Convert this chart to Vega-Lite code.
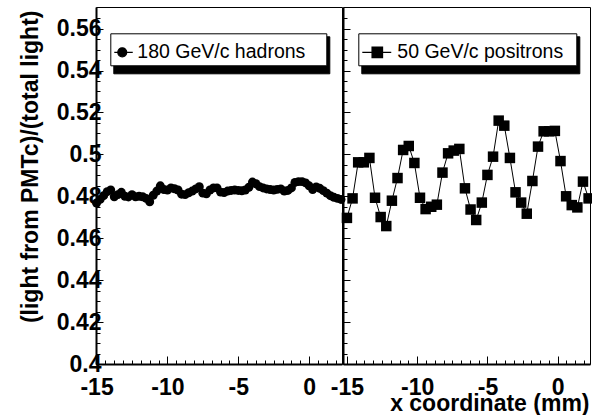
{
  "$schema": "https://vega.github.io/schema/vega-lite/v6.json",
  "background": "white",
  "padding": {"left": 18, "top": 6, "right": 0, "bottom": 0},
  "spacing": 1,
  "bounds": "flush",
  "datasets": {
    "hadrons": [
      {"x": -15, "y": 0.4768, "series": "180 GeV/c hadrons"},
      {"x": -14.75, "y": 0.4785, "series": "180 GeV/c hadrons"},
      {"x": -14.5, "y": 0.4803, "series": "180 GeV/c hadrons"},
      {"x": -14.25, "y": 0.4822, "series": "180 GeV/c hadrons"},
      {"x": -14, "y": 0.483, "series": "180 GeV/c hadrons"},
      {"x": -13.75, "y": 0.4798, "series": "180 GeV/c hadrons"},
      {"x": -13.5, "y": 0.4808, "series": "180 GeV/c hadrons"},
      {"x": -13.25, "y": 0.4819, "series": "180 GeV/c hadrons"},
      {"x": -13, "y": 0.48, "series": "180 GeV/c hadrons"},
      {"x": -12.75, "y": 0.4797, "series": "180 GeV/c hadrons"},
      {"x": -12.5, "y": 0.4808, "series": "180 GeV/c hadrons"},
      {"x": -12.25, "y": 0.4798, "series": "180 GeV/c hadrons"},
      {"x": -12, "y": 0.48, "series": "180 GeV/c hadrons"},
      {"x": -11.75, "y": 0.4798, "series": "180 GeV/c hadrons"},
      {"x": -11.5, "y": 0.479, "series": "180 GeV/c hadrons"},
      {"x": -11.25, "y": 0.4774, "series": "180 GeV/c hadrons"},
      {"x": -11, "y": 0.4805, "series": "180 GeV/c hadrons"},
      {"x": -10.75, "y": 0.4825, "series": "180 GeV/c hadrons"},
      {"x": -10.5, "y": 0.485, "series": "180 GeV/c hadrons"},
      {"x": -10.25, "y": 0.4832, "series": "180 GeV/c hadrons"},
      {"x": -10, "y": 0.483, "series": "180 GeV/c hadrons"},
      {"x": -9.75, "y": 0.484, "series": "180 GeV/c hadrons"},
      {"x": -9.5, "y": 0.4836, "series": "180 GeV/c hadrons"},
      {"x": -9.25, "y": 0.483, "series": "180 GeV/c hadrons"},
      {"x": -9, "y": 0.481, "series": "180 GeV/c hadrons"},
      {"x": -8.75, "y": 0.4808, "series": "180 GeV/c hadrons"},
      {"x": -8.5, "y": 0.4817, "series": "180 GeV/c hadrons"},
      {"x": -8.25, "y": 0.4825, "series": "180 GeV/c hadrons"},
      {"x": -8, "y": 0.4835, "series": "180 GeV/c hadrons"},
      {"x": -7.75, "y": 0.4846, "series": "180 GeV/c hadrons"},
      {"x": -7.5, "y": 0.4815, "series": "180 GeV/c hadrons"},
      {"x": -7.25, "y": 0.4812, "series": "180 GeV/c hadrons"},
      {"x": -7, "y": 0.483, "series": "180 GeV/c hadrons"},
      {"x": -6.75, "y": 0.484, "series": "180 GeV/c hadrons"},
      {"x": -6.5, "y": 0.484, "series": "180 GeV/c hadrons"},
      {"x": -6.25, "y": 0.482, "series": "180 GeV/c hadrons"},
      {"x": -6, "y": 0.4818, "series": "180 GeV/c hadrons"},
      {"x": -5.75, "y": 0.4825, "series": "180 GeV/c hadrons"},
      {"x": -5.5, "y": 0.4828, "series": "180 GeV/c hadrons"},
      {"x": -5.25, "y": 0.483, "series": "180 GeV/c hadrons"},
      {"x": -5, "y": 0.4828, "series": "180 GeV/c hadrons"},
      {"x": -4.75, "y": 0.4826, "series": "180 GeV/c hadrons"},
      {"x": -4.5, "y": 0.483, "series": "180 GeV/c hadrons"},
      {"x": -4.25, "y": 0.4843, "series": "180 GeV/c hadrons"},
      {"x": -4, "y": 0.4868, "series": "180 GeV/c hadrons"},
      {"x": -3.75, "y": 0.486, "series": "180 GeV/c hadrons"},
      {"x": -3.5, "y": 0.4846, "series": "180 GeV/c hadrons"},
      {"x": -3.25, "y": 0.484, "series": "180 GeV/c hadrons"},
      {"x": -3, "y": 0.4835, "series": "180 GeV/c hadrons"},
      {"x": -2.75, "y": 0.4832, "series": "180 GeV/c hadrons"},
      {"x": -2.5, "y": 0.483, "series": "180 GeV/c hadrons"},
      {"x": -2.25, "y": 0.4833, "series": "180 GeV/c hadrons"},
      {"x": -2, "y": 0.4835, "series": "180 GeV/c hadrons"},
      {"x": -1.75, "y": 0.4825, "series": "180 GeV/c hadrons"},
      {"x": -1.5, "y": 0.4828, "series": "180 GeV/c hadrons"},
      {"x": -1.25, "y": 0.484, "series": "180 GeV/c hadrons"},
      {"x": -1, "y": 0.4866, "series": "180 GeV/c hadrons"},
      {"x": -0.75, "y": 0.487, "series": "180 GeV/c hadrons"},
      {"x": -0.5, "y": 0.487, "series": "180 GeV/c hadrons"},
      {"x": -0.25, "y": 0.4864, "series": "180 GeV/c hadrons"},
      {"x": 0, "y": 0.485, "series": "180 GeV/c hadrons"},
      {"x": 0.25, "y": 0.4832, "series": "180 GeV/c hadrons"},
      {"x": 0.5, "y": 0.4845, "series": "180 GeV/c hadrons"},
      {"x": 0.75, "y": 0.4838, "series": "180 GeV/c hadrons"},
      {"x": 1, "y": 0.4827, "series": "180 GeV/c hadrons"},
      {"x": 1.25, "y": 0.4815, "series": "180 GeV/c hadrons"},
      {"x": 1.5, "y": 0.4803, "series": "180 GeV/c hadrons"},
      {"x": 1.75, "y": 0.4795, "series": "180 GeV/c hadrons"},
      {"x": 2, "y": 0.479, "series": "180 GeV/c hadrons"},
      {"x": 2.25, "y": 0.4785, "series": "180 GeV/c hadrons"}
    ],
    "positrons": [
      {"x": -15, "y": 0.4697, "series": "50 GeV/c positrons"},
      {"x": -14.6, "y": 0.479, "series": "50 GeV/c positrons"},
      {"x": -14.2, "y": 0.4962, "series": "50 GeV/c positrons"},
      {"x": -13.8, "y": 0.4962, "series": "50 GeV/c positrons"},
      {"x": -13.4, "y": 0.4983, "series": "50 GeV/c positrons"},
      {"x": -13, "y": 0.4793, "series": "50 GeV/c positrons"},
      {"x": -12.6, "y": 0.4701, "series": "50 GeV/c positrons"},
      {"x": -12.2, "y": 0.4658, "series": "50 GeV/c positrons"},
      {"x": -11.8, "y": 0.4779, "series": "50 GeV/c positrons"},
      {"x": -11.4, "y": 0.4887, "series": "50 GeV/c positrons"},
      {"x": -11, "y": 0.5021, "series": "50 GeV/c positrons"},
      {"x": -10.6, "y": 0.504, "series": "50 GeV/c positrons"},
      {"x": -10.2, "y": 0.4959, "series": "50 GeV/c positrons"},
      {"x": -9.8, "y": 0.4793, "series": "50 GeV/c positrons"},
      {"x": -9.4, "y": 0.4739, "series": "50 GeV/c positrons"},
      {"x": -9, "y": 0.475, "series": "50 GeV/c positrons"},
      {"x": -8.6, "y": 0.476, "series": "50 GeV/c positrons"},
      {"x": -8.2, "y": 0.4913, "series": "50 GeV/c positrons"},
      {"x": -7.8, "y": 0.5005, "series": "50 GeV/c positrons"},
      {"x": -7.4, "y": 0.5018, "series": "50 GeV/c positrons"},
      {"x": -7, "y": 0.5026, "series": "50 GeV/c positrons"},
      {"x": -6.6, "y": 0.4838, "series": "50 GeV/c positrons"},
      {"x": -6.2, "y": 0.4737, "series": "50 GeV/c positrons"},
      {"x": -5.8, "y": 0.4687, "series": "50 GeV/c positrons"},
      {"x": -5.4, "y": 0.477, "series": "50 GeV/c positrons"},
      {"x": -5, "y": 0.4902, "series": "50 GeV/c positrons"},
      {"x": -4.6, "y": 0.4989, "series": "50 GeV/c positrons"},
      {"x": -4.2, "y": 0.5161, "series": "50 GeV/c positrons"},
      {"x": -3.8, "y": 0.5137, "series": "50 GeV/c positrons"},
      {"x": -3.4, "y": 0.4983, "series": "50 GeV/c positrons"},
      {"x": -3, "y": 0.4819, "series": "50 GeV/c positrons"},
      {"x": -2.6, "y": 0.477, "series": "50 GeV/c positrons"},
      {"x": -2.2, "y": 0.4717, "series": "50 GeV/c positrons"},
      {"x": -1.8, "y": 0.4873, "series": "50 GeV/c positrons"},
      {"x": -1.4, "y": 0.5037, "series": "50 GeV/c positrons"},
      {"x": -1, "y": 0.511, "series": "50 GeV/c positrons"},
      {"x": -0.6, "y": 0.511, "series": "50 GeV/c positrons"},
      {"x": -0.2, "y": 0.5112, "series": "50 GeV/c positrons"},
      {"x": 0.2, "y": 0.4968, "series": "50 GeV/c positrons"},
      {"x": 0.6, "y": 0.48, "series": "50 GeV/c positrons"},
      {"x": 1, "y": 0.4758, "series": "50 GeV/c positrons"},
      {"x": 1.4, "y": 0.4747, "series": "50 GeV/c positrons"},
      {"x": 1.8, "y": 0.487, "series": "50 GeV/c positrons"},
      {"x": 2.2, "y": 0.479, "series": "50 GeV/c positrons"}
    ]
  },
  "hconcat": [
    {
      "width": 246,
      "height": 357,
      "data": {"name": "hadrons"},
      "layer": [
        {
          "mark": {"type": "line", "color": "black", "strokeWidth": 1},
          "encoding": {
            "x": {"field": "x", "type": "quantitative", "scale": {"domain": [-15.04, 2.32], "nice": false, "zero": false},
              "axis": {"orient": "bottom", "values": [-15, -14.375, -13.75, -13.125, -12.5, -11.875, -11.25, -10.625, -10, -9.375, -8.75, -8.125, -7.5, -6.875, -6.25, -5.625, -5, -4.375, -3.75, -3.125, -2.5, -1.875, -1.25, -0.625, 0, 0.625, 1.25, 1.875], "tickSize": -4, "labels": false, "domain": false, "title": null, "grid": false}},
            "y": {"field": "y", "type": "quantitative", "scale": {"domain": [0.4, 0.5703], "nice": false, "zero": false},
              "axis": {"orient": "left", "values": [0.405, 0.41, 0.415, 0.42, 0.425, 0.43, 0.435, 0.44, 0.445, 0.45, 0.455, 0.46, 0.465, 0.47, 0.475, 0.48, 0.485, 0.49, 0.495, 0.5, 0.505, 0.51, 0.515, 0.52, 0.525, 0.53, 0.535, 0.54, 0.545, 0.55, 0.555, 0.56, 0.565], "tickSize": -4, "labels": false, "domain": false, "title": null, "grid": false}}
          }
        },
        {
          "mark": {"type": "point", "filled": true, "size": 80, "opacity": 1},
          "encoding": {
            "x": {"field": "x", "type": "quantitative", "scale": {"domain": [-15.04, 2.32], "nice": false, "zero": false},
              "axis": {"orient": "bottom", "values": [-15, -10, -5, 0], "tickSize": -8, "domain": true, "domainWidth": 2, "labelExpr": "'' + datum.value", "labelFont": "Liberation Sans", "labelFontSize": 23, "labelFontWeight": "bold", "labelPadding": 20, "labelOverlap": false, "labelFlush": false, "labelBound": false, "title": null, "grid": false}},
            "y": {"field": "y", "type": "quantitative", "scale": {"domain": [0.4, 0.5703], "nice": false, "zero": false},
              "axis": {"orient": "left", "values": [0.4, 0.42, 0.44, 0.46, 0.48, 0.5, 0.52, 0.54, 0.56], "tickSize": -7, "domain": true, "domainWidth": 2, "labelExpr": "'' + datum.value", "labelFont": "Liberation Sans", "labelFontSize": 23, "labelFontWeight": "bold", "labelPadding": 2, "labelOverlap": false, "labelFlush": false, "labelBound": false, "grid": false,
                "title": "(light from PMTc)/(total light)", "titleFont": "Liberation Sans", "titleFontSize": 23, "titleFontWeight": "bold", "titleAngle": -90, "titleAnchor": "end", "titleAlign": "right", "titleBaseline": "middle", "titleX": -66, "titleY": 3}},
            "color": {"field": "series", "type": "nominal", "scale": {"domain": ["180 GeV/c hadrons"], "range": ["black"]},
              "legend": {"orient": "none", "legendX": 14.3, "legendY": 26.3, "title": null, "padding": 3, "symbolSize": 900, "symbolType": "M-1,0L0.23,0M-0.17,0A0.3,0.3,0,1,1,-0.77,0A0.3,0.3,0,1,1,-0.17,0Z", "labelOffset": -8, "labelFont": "Liberation Sans", "labelFontSize": 19.5, "labelColor": "black", "labelLimit": 400, "labelExpr": "datum.label + '\u00a0\u00a0\u00a0\u200a\u200b'", "fillColor": "white", "strokeColor": "black", "zindex": 2,
                "symbolFillColor": "black", "symbolStrokeColor": "black", "symbolStrokeWidth": 1.2, "symbolOpacity": 1,
                "encode": {"symbols": {"update": {"fill": {"value": "black"}, "stroke": {"value": "black"}, "strokeWidth": {"value": 1.2}, "opacity": {"value": 1}, "strokeOpacity": {"value": 1}}}}}},
            "shape": {"field": "series", "type": "nominal", "scale": {"range": ["circle"]},
              "legend": {"orient": "none", "legendX": 17.3, "legendY": 29.3, "title": null, "padding": 3, "symbolSize": 900, "labelOffset": -8, "labelFont": "Liberation Sans", "labelFontSize": 19.5, "labelColor": "black", "labelLimit": 400, "labelExpr": "datum.label + '\u00a0\u00a0\u00a0\u200a\u200b'", "fillColor": "black", "strokeColor": "black", "zindex": 1, "symbolOpacity": 0}}
          }
        }
      ],
      "resolve": {"axis": {"x": "independent", "y": "independent"}}
    },
    {
      "width": 247,
      "height": 357,
      "data": {"name": "positrons"},
      "layer": [
        {
          "mark": {"type": "line", "color": "black", "strokeWidth": 1},
          "encoding": {
            "x": {"field": "x", "type": "quantitative", "scale": {"domain": [-15.28, 2.3], "nice": false, "zero": false},
              "axis": {"orient": "bottom", "values": [-15, -14.375, -13.75, -13.125, -12.5, -11.875, -11.25, -10.625, -10, -9.375, -8.75, -8.125, -7.5, -6.875, -6.25, -5.625, -5, -4.375, -3.75, -3.125, -2.5, -1.875, -1.25, -0.625, 0, 0.625, 1.25, 1.875], "tickSize": -4, "labels": false, "domain": false, "title": null, "grid": false}},
            "y": {"field": "y", "type": "quantitative", "scale": {"domain": [0.4, 0.5703], "nice": false, "zero": false},
              "axis": {"orient": "left", "values": [0.405, 0.41, 0.415, 0.42, 0.425, 0.43, 0.435, 0.44, 0.445, 0.45, 0.455, 0.46, 0.465, 0.47, 0.475, 0.48, 0.485, 0.49, 0.495, 0.5, 0.505, 0.51, 0.515, 0.52, 0.525, 0.53, 0.535, 0.54, 0.545, 0.55, 0.555, 0.56, 0.565], "tickSize": -4, "labels": false, "domain": false, "title": null, "grid": false}}
          }
        },
        {
          "mark": {"type": "point", "filled": true, "size": 110, "opacity": 1},
          "encoding": {
            "x": {"field": "x", "type": "quantitative", "scale": {"domain": [-15.28, 2.3], "nice": false, "zero": false},
              "axis": {"orient": "bottom", "values": [-15, -10, -5, 0], "tickSize": -8, "domain": true, "domainWidth": 2, "labelExpr": "'' + datum.value", "labelFont": "Liberation Sans", "labelFontSize": 23, "labelFontWeight": "bold", "labelPadding": 20, "labelOverlap": false, "labelFlush": false, "labelBound": false, "grid": false,
                "title": "x coordinate (mm)", "titleFont": "Liberation Sans", "titleFontSize": 23, "titleFontWeight": "bold", "titleAnchor": "end", "titleAlign": "right", "titleBaseline": "middle", "titleX": 246, "titleY": 39.5}},
            "y": {"field": "y", "type": "quantitative", "scale": {"domain": [0.4, 0.5703], "nice": false, "zero": false},
              "axis": {"orient": "left", "values": [0.4, 0.42, 0.44, 0.46, 0.48, 0.5, 0.52, 0.54, 0.56], "tickSize": -7, "domain": true, "domainWidth": 2, "labels": false, "title": null, "grid": false}},
            "color": {"field": "series", "type": "nominal", "scale": {"domain": ["50 GeV/c positrons"], "range": ["black"]},
              "legend": {"orient": "none", "legendX": 15.3, "legendY": 26.3, "title": null, "padding": 3, "symbolSize": 900, "symbolType": "M-1,0L0.93,0M-0.35,-0.35L0.35,-0.35L0.35,0.35L-0.35,0.35Z", "labelOffset": 4, "labelFont": "Liberation Sans", "labelFontSize": 19.5, "labelColor": "black", "labelLimit": 400, "labelExpr": "datum.label + '\u00a0\u2009\u200b'", "fillColor": "white", "strokeColor": "black", "zindex": 2,
                "symbolFillColor": "black", "symbolStrokeColor": "black", "symbolStrokeWidth": 1.2, "symbolOpacity": 1,
                "encode": {"symbols": {"update": {"fill": {"value": "black"}, "stroke": {"value": "black"}, "strokeWidth": {"value": 1.2}, "opacity": {"value": 1}, "strokeOpacity": {"value": 1}}}}}},
            "shape": {"field": "series", "type": "nominal", "scale": {"range": ["square"]},
              "legend": {"orient": "none", "legendX": 18.3, "legendY": 29.3, "title": null, "padding": 3, "symbolSize": 900, "labelOffset": 4, "labelFont": "Liberation Sans", "labelFontSize": 19.5, "labelColor": "black", "labelLimit": 400, "labelExpr": "datum.label + '\u00a0\u2009\u200b'", "fillColor": "black", "strokeColor": "black", "zindex": 1, "symbolOpacity": 0}}
          }
        }
      ],
      "resolve": {"axis": {"x": "independent", "y": "independent"}}
    }
  ],
  "resolve": {
    "scale": {"x": "independent", "y": "independent", "color": "independent", "shape": "independent"},
    "legend": {"color": "independent", "shape": "independent"}
  },
  "config": {
    "view": {"stroke": "black", "strokeWidth": 1},
    "axis": {"grid": false, "domainColor": "black", "tickColor": "black", "tickWidth": 1, "labelColor": "black", "titleColor": "black"}
  }
}
